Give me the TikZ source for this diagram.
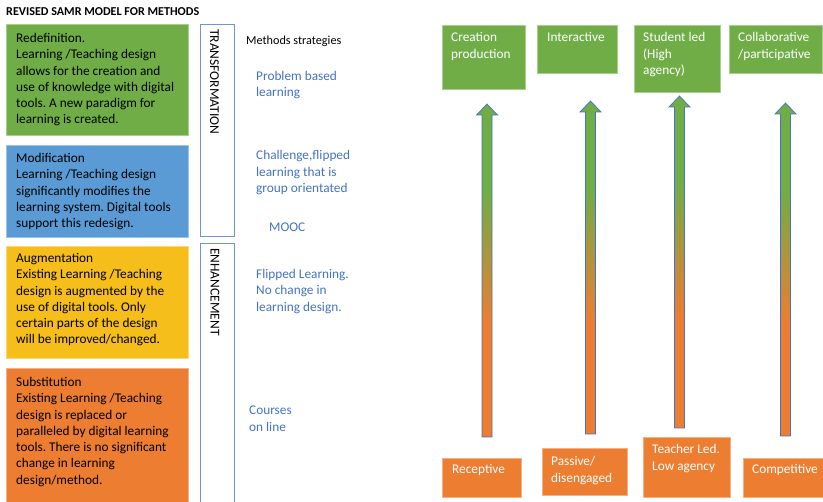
\documentclass[tikz,border=0pt]{standalone}
\usepackage{fontspec}
\setmainfont{Carlito}
\usetikzlibrary{positioning}
\frenchspacing

\definecolor{samrgreen}{HTML}{70AD47}
\definecolor{samrblue}{HTML}{5B9BD5}
\definecolor{samryellow}{HTML}{F6BE1A}
\definecolor{samrorange}{HTML}{ED7D31}
\definecolor{lineblue}{HTML}{4472C4}
\definecolor{bandblue}{HTML}{6F94D4}

\newcommand\samrfont{\fontsize{13.3}{16.3}\selectfont}

% shaft goes from orange at the bottom to green at the top
\pgfdeclareverticalshading{greentoorange}{100bp}{color(0bp)=(samrorange); color(42bp)=(samrorange); color(62bp)=(samrgreen); color(100bp)=(samrgreen)}

\tikzset{
 levelbox/.style={draw=#1!60!white,fill=#1,line width=0.6pt,anchor=north west,inner sep=0pt},
 bandbox/.style={draw=bandblue,line width=0.8pt,anchor=north west,inner sep=0pt},
 % base sits on the last line, so drop the block by the lines above it
 lines/.style={align=left,anchor=base west,yshift={-(#1-1)*16.3pt}},
 leveltext/.style={lines=#1,text=black},
 stratext/.style={lines=#1,text=lineblue},
 outtext/.style={lines=#1,text=white},
 shaftarrow/.style={shade,shading=greentoorange,draw=lineblue,line width=0.7pt,line join=miter}
}

\begin{document}
\begin{tikzpicture}[x=1pt,y=-1pt,every node/.style={font=\samrfont,inner sep=0pt}]
 \clip (0,0) rectangle (823,502);

 \node[anchor=base west,font=\fontsize{12.1}{14}\selectfont\bfseries] (title) at (6,16) {REVISED SAMR MODEL FOR METHODS};

 % SAMR levels
 \node[levelbox=samrgreen,minimum width=182,minimum height=111] (redef) at (6,24) {};
 \node[levelbox=samrblue,minimum width=182,minimum height=92] (modif) at (6,145) {};
 \node[levelbox=samryellow,minimum width=182,minimum height=112] (augm) at (6,246) {};
 \node[levelbox=samrorange,minimum width=182,minimum height=150] (subst) at (6,368) {};
 \node[leveltext=6] (redeftxt) at (16,42.5) {Redefinition.\\Learning /Teaching design\\allows for the creation and\\use of knowledge with digital\\tools. A new paradigm for\\learning is created.};
 \node[leveltext=5] (modiftxt) at (16,162.5) {Modification\\Learning /Teaching design\\significantly modifies the\\learning system. Digital tools\\support this redesign.};
 \node[leveltext=6] (augmtxt) at (16,262.5) {Augmentation\\Existing Learning /Teaching\\design is augmented by the\\use of digital tools. Only\\certain parts of the design\\will be improved/changed.};
 \node[leveltext=7] (substtxt) at (16,386.5) {Substitution\\Existing Learning /Teaching\\design is replaced or\\paralleled by digital learning\\tools. There is no significant\\change in learning\\design/method.};

 % bands
 \node[bandbox,minimum width=34,minimum height=212] (transf) at (200,24) {};
 \node[bandbox,minimum width=34,minimum height=270] (enhan) at (200,243) {};
 \node[rotate=-90,anchor=west,font=\fontsize{13.5}{16}\selectfont] (transftxt) at (214.5,29) {TRANSFORMATION};
 \node[rotate=-90,anchor=west,font=\fontsize{13.5}{16}\selectfont] (enhantxt) at (215,248) {ENHANCEMENT};

 % methods
 \node[anchor=base west,font=\fontsize{12.2}{15}\selectfont] (methods) at (246,45) {Methods strategies};
 \node[stratext=2] (pbl) at (256,80.5) {Problem based\\learning};
 \node[stratext=3] (challenge) at (256,160) {Challenge,flipped\\learning that is\\group orientated};
 \node[stratext=1] (mooc) at (269,231.5) {MOOC};
 \node[stratext=3] (flipped) at (256,278.5) {Flipped Learning.\\No change in\\learning design.};
 \node[stratext=2] (courses) at (249,415) {Courses\\on line};

 % top outcomes
 \node[levelbox=samrgreen,minimum width=83,minimum height=64] (creation) at (442,25) {};
 \node[levelbox=samrgreen,minimum width=80,minimum height=48] (interact) at (537,25) {};
 \node[levelbox=samrgreen,minimum width=86,minimum height=67] (student) at (634,25) {};
 \node[levelbox=samrgreen,minimum width=93,minimum height=48] (collab) at (729,25) {};
 \node[outtext=2] (creationtxt) at (451,42) {Creation\\production};
 \node[outtext=1] (interacttxt) at (547,42) {Interactive};
 \node[outtext=3] (studenttxt) at (643,42) {Student led\\(High\\agency)};
 \node[outtext=2] (collabtxt) at (738,42) {Collaborative\\/participative};

 % bottom outcomes
 \node[levelbox=samrorange,minimum width=79,minimum height=39] (recept) at (442,458) {};
 \node[levelbox=samrorange,minimum width=85,minimum height=47] (passive) at (542,448) {};
 \node[levelbox=samrorange,minimum width=87,minimum height=60] (teacher) at (643,437) {};
 \node[levelbox=samrorange,minimum width=85,minimum height=39] (compet) at (743,458) {};
 \node[outtext=1] (recepttxt) at (452,474) {Receptive};
 \node[outtext=2] (passivetxt) at (551,466) {Passive/\\disengaged};
 \node[outtext=2] (teachertxt) at (652,454) {Teacher Led.\\Low agency};
 \node[outtext=1] (compettxt) at (752,474) {Competitive};

 % block arrows: centre / tip / foot
 \foreach \cx/\ty/\by in {487/104/437,590.5/101/434,679.5/96/428,785.5/103/436}
  \draw[shaftarrow] (\cx-5,\by) -- (\cx-5,\ty+11) -- (\cx-10.5,\ty+11) -- (\cx,\ty)
   -- (\cx+10.5,\ty+11) -- (\cx+5,\ty+11) -- (\cx+5,\by) -- cycle;
\end{tikzpicture}
\end{document}
